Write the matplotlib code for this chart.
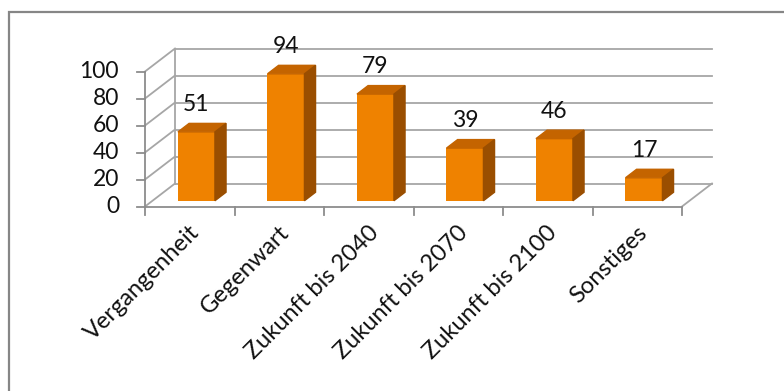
import matplotlib
matplotlib.use("Agg")
import matplotlib.pyplot as plt
from matplotlib.patches import Polygon, Rectangle

categories = ["Vergangenheit", "Gegenwart", "Zukunft bis 2040",
              "Zukunft bis 2070", "Zukunft bis 2100", "Sonstiges"]
values = [51, 94, 79, 39, 46, 17]
yticks = [0, 20, 40, 60, 80, 100]

W, H = 784, 391
fig = plt.figure(figsize=(W / 100, H / 100), dpi=100)
ax = fig.add_axes([0, 0, 1, 1])

# pixel layout of the front plane: category slot width and value scale
x0_px, slot_px = 145, 89.5
y0_px, unit_px = 206.5, 1.35
ax.set_xlim(-0.5 - x0_px / slot_px, -0.5 + (W - x0_px) / slot_px)
ax.set_ylim((y0_px - H) / unit_px, y0_px / unit_px)
ax.axis("off")

# depth of the fake 3d box (back wall offset) in data units
DX, DY = 30 / slot_px, 23 / unit_px
n = len(categories)
left, right = -0.5, n - 0.5

grid_c = "#a6a6a6"
axis_c = "#8c8c8c"
lw = 1.3
fs = 16.5
txt_c = "#111111"

# back wall gridlines + left wall diagonals
for v in yticks:
    ax.plot([left + DX, right + DX], [v + DY, v + DY], color=grid_c, lw=lw, zorder=1)
    ax.plot([left, left + DX], [v, v + DY], color=grid_c, lw=lw, zorder=1)
    ax.plot([left - 0.09, left], [v, v], color=axis_c, lw=lw, zorder=1)
    ax.text(left - 0.29, v, str(v), ha="right", va="center",
            fontsize=fs, family="Lato", color=txt_c)
ax.plot([left + DX, left + DX], [DY, 100 + DY], color=grid_c, lw=lw, zorder=1)

# floor and front axis
ax.plot([left, left], [0, 100], color=axis_c, lw=lw, zorder=1)
ax.plot([left, right], [0, 0], color=axis_c, lw=lw, zorder=1)
ax.plot([right, right + DX], [0, DY], color=grid_c, lw=lw, zorder=1)
for i in range(n + 1):
    ax.plot([left + i, left + i], [0, -6], color=axis_c, lw=lw, zorder=1)

# bars sit in the middle of the depth
f0, f1 = 0.25, 0.62
bw = 0.413
front_c, top_c, side_c = "#ef8200", "#c46400", "#9a4e00"
bars = ax.bar([i + 0.075 for i in range(n)], values, width=bw,
              bottom=f0 * DY, color=front_c, zorder=3)
ddx, ddy = (f1 - f0) * DX, (f1 - f0) * DY
for b, v in zip(bars, values):
    xl, xr = b.get_x(), b.get_x() + b.get_width()
    yb, yt = b.get_y(), b.get_y() + b.get_height()
    ax.add_patch(Polygon([(xl, yt), (xr, yt), (xr + ddx, yt + ddy), (xl + ddx, yt + ddy)],
                         closed=True, color=top_c, zorder=3))
    ax.add_patch(Polygon([(xr, yb), (xr + ddx, yb + ddy), (xr + ddx, yt + ddy), (xr, yt)],
                         closed=True, color=side_c, zorder=3))
    ax.text((xl + xr) / 2, yt + ddy + 14, str(v), ha="center", va="center",
            fontsize=fs, family="Lato", color=txt_c, zorder=4)

# rotated category labels
for i, name in enumerate(categories):
    ax.text(i + 0.07, -17, name, rotation=45, rotation_mode="anchor",
            ha="right", va="center", fontsize=17, family="Lato", color=txt_c)

# chart frame
fig.patches.append(Rectangle((9 / W, -0.1), 1.2, 1.1 - 12 / H, transform=fig.transFigure,
                             fill=False, edgecolor="#868686", lw=1.6))

fig.savefig("out.png", dpi=100)
